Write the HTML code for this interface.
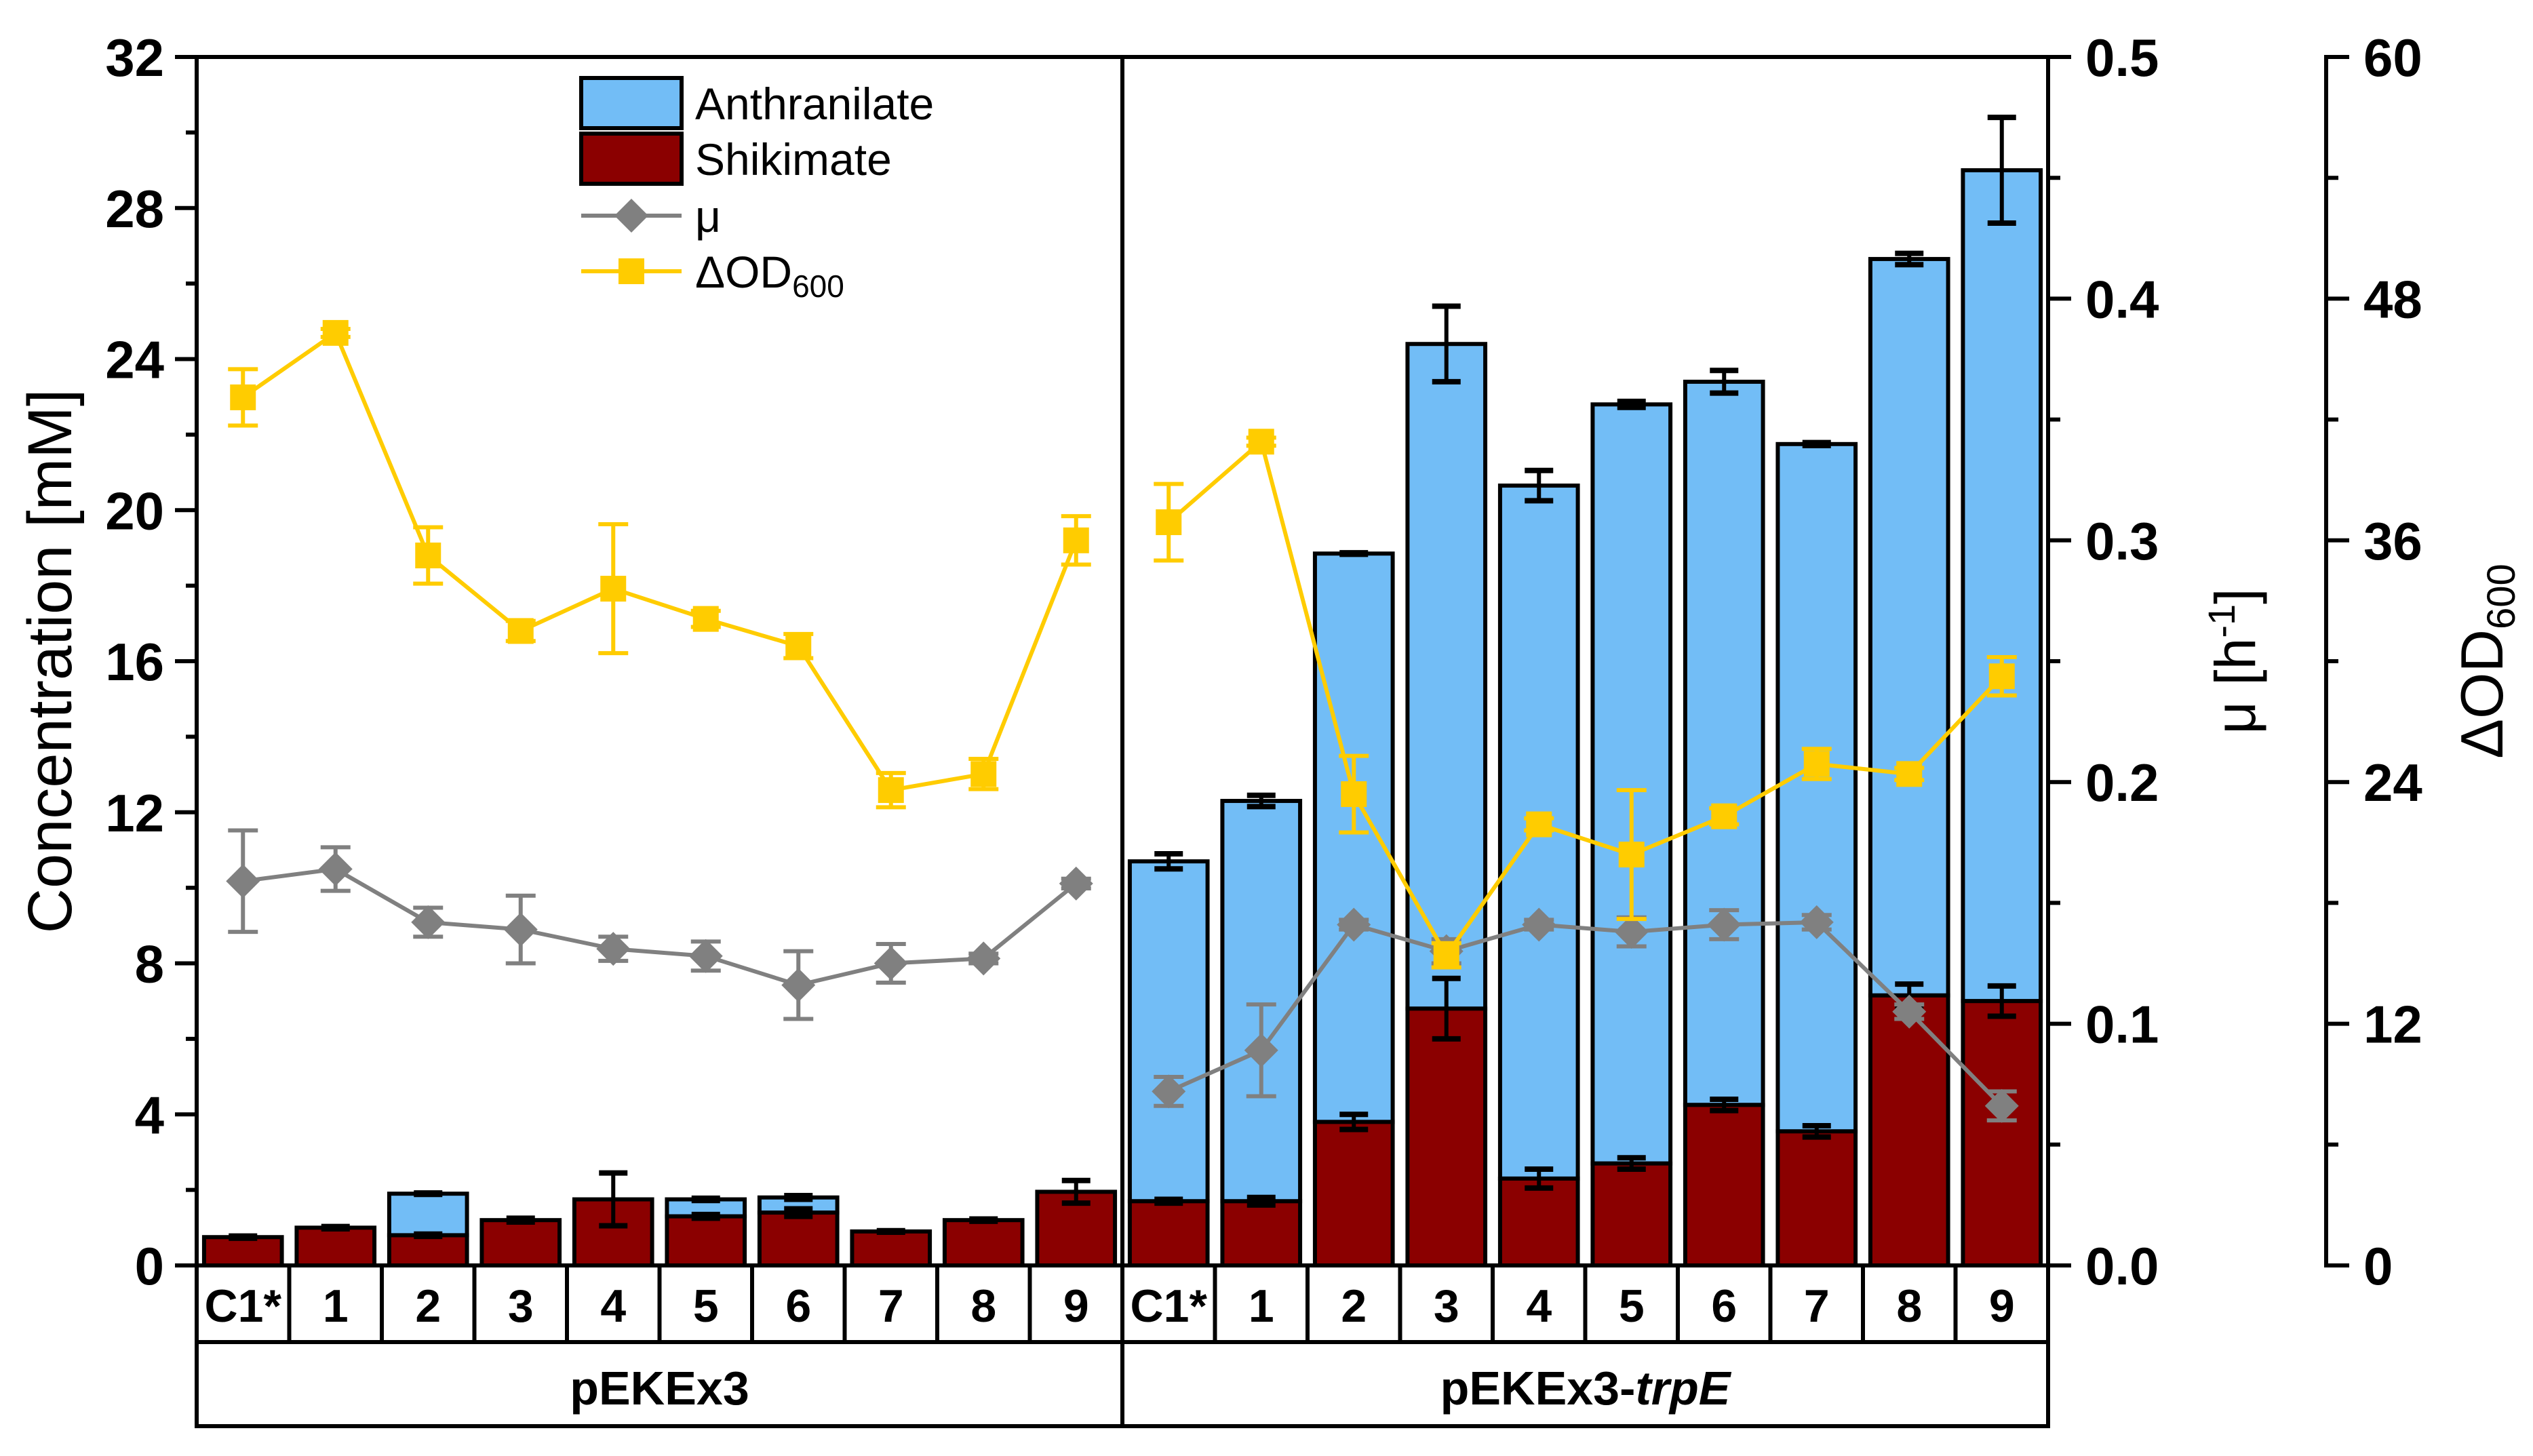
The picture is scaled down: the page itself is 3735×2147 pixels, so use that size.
<!DOCTYPE html>
<html><head><meta charset="utf-8"><style>
html,body{margin:0;padding:0;background:#fff}
svg{display:block}
text{font-family:"Liberation Sans",Arial,sans-serif}
</style></head><body>
<svg id="chart" width="3735" height="2147" viewBox="0 0 3735 2147" xmlns="http://www.w3.org/2000/svg">
<g id="g"></g>
</svg>
<script>
const categories=["C1*","1","2","3","4","5","6","7","8","9","C1*","1","2","3","4","5","6","7","8","9"];
const groups=["pEKEx3","pEKEx3-trpE"];
const shikimate=[0.75,1.0,0.8,1.2,1.75,1.3,1.4,0.9,1.2,1.95, 1.7,1.7,3.8,6.8,2.3,2.7,4.25,3.55,7.15,7.0];
const shikimateErr=[0.03,0.03,0.03,0.05,0.7,0.05,0.1,0.02,0.03,0.3, 0.05,0.1,0.2,0.8,0.25,0.15,0.15,0.15,0.3,0.4];
const anthranilate=[0,0,1.1,0,0,0.45,0.4,0,0,0, 9.0,10.6,15.05,17.6,18.35,20.1,19.15,18.2,19.5,22.0];
const totalErr=[0,0,0.02,0,0,0.03,0.05,0,0,0, 0.2,0.15,0.02,1.0,0.4,0.08,0.3,0.04,0.15,1.4];
const od=[43.1,46.3,35.25,31.5,33.6,32.1,30.75,23.6,24.4,36.0, 36.9,40.9,23.4,15.4,21.9,20.4,22.3,24.9,24.4,29.25];
const odErr=[1.4,0.2,1.4,0.5,3.2,0.4,0.6,0.85,0.75,1.2, 1.9,0.2,1.9,0.6,0.3,3.2,0.4,0.75,0.3,0.95];
const mu=[0.159,0.164,0.142,0.139,0.131,0.128,0.116,0.125,0.127,0.158, 0.072,0.089,0.141,0.130,0.141,0.138,0.141,0.142,0.105,0.066];
const muErr=[0.021,0.009,0.006,0.014,0.005,0.006,0.014,0.008,0.002,0.002, 0.006,0.019,0.002,0.005,0.002,0.006,0.006,0.003,0.003,0.006];
const leftTicks=[0,4,8,12,16,20,24,28,32];
const muTicks=[0.0,0.1,0.2,0.3,0.4,0.5];
const odTicks=[0,12,24,36,48,60];

const NS="http://www.w3.org/2000/svg";
const G=document.getElementById('g');
const X0=290,X1=3020,Y0=1866,YT=84,AX2=3430,YR1=1979,YR2=2103;
const step=(X1-X0)/categories.length;
const cx=i=>X0+step*(i+0.5);
const yC=v=>Y0-(v/32)*(Y0-YT);
const yMu=v=>Y0-(v/0.5)*(Y0-YT);
const yOD=v=>Y0-(v/60)*(Y0-YT);
function el(tag,attrs,parent){const e=document.createElementNS(NS,tag);for(const k in attrs)e.setAttribute(k,attrs[k]);(parent||G).appendChild(e);return e;}
function line(x1,y1,x2,y2,stroke,w,p){return el('line',{x1,y1,x2,y2,stroke,'stroke-width':w},p);}
function txt(x,y,s,size,weight,anchor,p){const t=el('text',{x,y,'font-size':size,'font-weight':weight,'text-anchor':anchor},p);t.textContent=s;return t;}

const BW=step*0.84;
for(let i=0;i<categories.length;i++){
  const g=el('g',{});
  
  
  const tot=shikimate[i]+anthranilate[i];
  if(anthranilate[i]>0){
    const r=el('rect',{x:cx(i)-BW/2,y:yC(tot),width:BW,height:yC(shikimate[i])-yC(tot),fill:'#72bdf6',stroke:'#000','stroke-width':6},g);
    
    
  }
  const s=el('rect',{x:cx(i)-BW/2,y:yC(shikimate[i]),width:BW,height:Y0-yC(shikimate[i]),fill:'#8b0000',stroke:'#000','stroke-width':6},g);
  
  
  function eb(v,e){ if(e<=0)return; const a=yC(v+e),b=yC(v-e);
    line(cx(i),a,cx(i),b,'#000',6,g);line(cx(i)-21,a,cx(i)+21,a,'#000',8,g);line(cx(i)-21,b,cx(i)+21,b,'#000',8,g);}
  eb(shikimate[i],shikimateErr[i]);
  if(anthranilate[i]>0)eb(tot,totalErr[i]);
}
function series(vals,errs,yf,color,marker,name,gi){
  const g=el('g',{});
  
  
  const idx=[];for(let i=gi*10;i<gi*10+10;i++)idx.push(i);
  el('polyline',{points:idx.map(i=>cx(i)+','+yf(vals[i])).join(' '),fill:'none',stroke:color,'stroke-width':6},g);
  idx.forEach(i=>{const a=yf(vals[i]+errs[i]),b=yf(vals[i]-errs[i]),x=cx(i);
    line(x,a,x,b,color,6,g);line(x-22,a,x+22,a,color,6,g);line(x-22,b,x+22,b,color,6,g);
    let m;
    if(marker==='sq'){m=el('rect',{x:x-19,y:yf(vals[i])-19,width:38,height:38,fill:color},g);}
    else{const y=yf(vals[i]);m=el('polygon',{points:`${x},${y-25} ${x+25},${y} ${x},${y+25} ${x-25},${y}`,fill:color},g);}
    
    
  });
}
for(let gi=0;gi<2;gi++){series(mu,muErr,yMu,'#808080','di','mu',gi);series(od,odErr,yOD,'#ffcc00','sq','od600',gi);}

const ax=el('g',{});


line(X0,YT,X1,YT,'#000',6,ax);
line(X0,YT-3,X0,YR2,'#000',6,ax);
line(X1,YT-3,X1,YR2,'#000',6,ax);
line(X0+step*10,YT,X0+step*10,YR2,'#000',6,ax);
line(X0,Y0,X1,Y0,'#000',6,ax);
line(X0,YR1,X1,YR1,'#000',6,ax);
line(X0-3,YR2,X1+3,YR2,'#000',6,ax);
for(let i=1;i<categories.length;i++){line(X0+step*i,Y0,X0+step*i,YR1,'#000',6,ax);}
categories.forEach((c,i)=>{const t=txt(cx(i),YR1-30,c,68,'bold','middle',ax);
  
  });
const g1=txt(X0+step*5,YR2-32,'pEKEx3',70,'bold','middle',ax);


const g2=el('text',{x:X0+step*15,y:YR2-32,'font-size':70,'font-weight':'bold','text-anchor':'middle'},ax);
g2.innerHTML='pEKEx3-<tspan font-style="italic">trpE</tspan>';


for(let v=0;v<=32;v+=2){const major=v%4===0;line(X0,yC(v),X0-(major?32:16),yC(v),'#000',6,ax);}
leftTicks.forEach(v=>{const t=txt(X0-48,yC(v)+28,String(v),78,'bold','end',ax);
  
  });
for(let k=0;k<=10;k++){const v=k*0.05;line(X1,yMu(v),X1+(k%2===0?34:18),yMu(v),'#000',6,ax);}
muTicks.forEach(v=>{const t=txt(X1+55,yMu(v)+28,v.toFixed(1),78,'bold','start',ax);
  
  });
line(AX2,YT-3,AX2,Y0+3,'#000',6,ax);
for(let v=0;v<=60;v+=6){line(AX2,yOD(v),AX2+(v%12===0?34:18),yOD(v),'#000',6,ax);}
odTicks.forEach(v=>{const t=txt(AX2+55,yOD(v)+28,String(v),78,'bold','start',ax);
  
  });
const t1=txt(0,0,'Concentration [mM]',92,'normal','middle',ax);
t1.setAttribute('transform','translate(105,975) rotate(-90)');


const t2=el('text',{'font-size':84,'text-anchor':'middle',transform:'translate(3325,975) rotate(-90)'},ax);
t2.innerHTML='μ [h<tspan dy="-30" font-size="56">-1</tspan><tspan dy="30">]</tspan>';


const t3=el('text',{'font-size':88,'text-anchor':'middle',transform:'translate(3690,975) rotate(-90)'},ax);
t3.innerHTML='ΔOD<tspan dy="18" font-size="58">600</tspan>';


const lg=el('g',{});


const le=[['Anthranilate','box','#72bdf6',152],['Shikimate','box','#8b0000',234],['μ','di','#808080',318],['ΔOD','sq','#ffcc00',400]];
le.forEach(([lab,kind,col,y])=>{
  const e=el('g',{},lg);
  
  
  if(kind==='box'){el('rect',{x:857,y:y-37,width:148,height:74,fill:col,stroke:'#000','stroke-width':6},e);}
  else{line(857,y,1005,y,col,6,e);
    if(kind==='sq')el('rect',{x:912,y:y-19,width:38,height:38,fill:col},e);
    else el('polygon',{points:`931,${y-25} 956,${y} 931,${y+25} 906,${y}`,fill:col},e);}
  const t=el('text',{x:1025,y:y+24,'font-size':66},e);
  if(lab==='ΔOD')t.innerHTML='ΔOD<tspan dy="14" font-size="46">600</tspan>';else t.textContent=lab;
});
</script>
</body></html>
